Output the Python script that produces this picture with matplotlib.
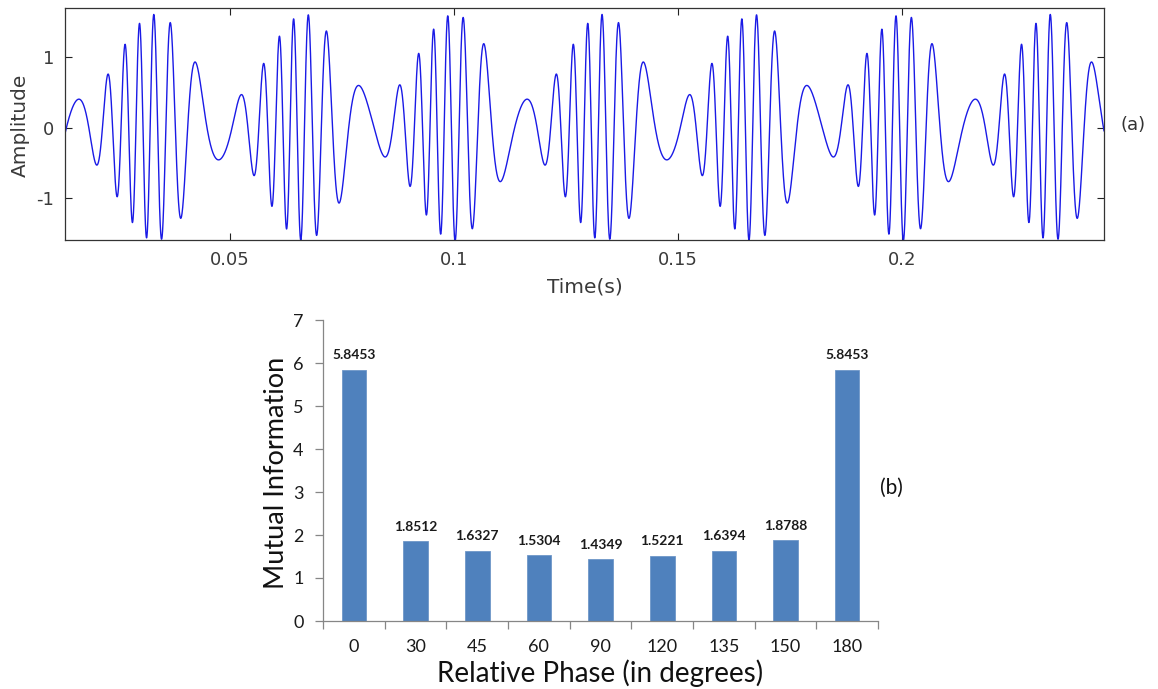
import matplotlib.pyplot as plt
import numpy as np

plt.rcParams['axes.unicode_minus'] = False

# (a) test signal: amplitude and frequency modulated carrier
t_start = 0.0132
t_end = 0.245
mod_freq = 30.0
carrier_freq = 200.0
freq_dev = 118.0
am_depth = 0.6
t_env_peak = 1.0 / 30.0
t_freq_peak = t_env_peak - 0.0033
phase0 = 0.6
time_ticks = [0.05, 0.1, 0.15, 0.2]
time_labels = ['0.05', '0.1', '0.15', '0.2']
amp_ticks = [-1, 0, 1]

# (b) mutual information vs relative phase
phase_labels = ['0', '30', '45', '60', '90', '120', '135', '150', '180']
mutual_info = [5.8453, 1.8512, 1.6327, 1.5304, 1.4349, 1.5221, 1.6394, 1.8788, 5.8453]

W, H = 1158, 689
fig = plt.figure(figsize=(W / 100, H / 100), dpi=100)

# ---- panel (a) ----
t = np.linspace(t_start, t_end, 8000)
beta = freq_dev / mod_freq
phase = (2 * np.pi * carrier_freq * (t - t_env_peak)
         + beta * (np.sin(2 * np.pi * mod_freq * (t - t_freq_peak))
                   - np.sin(2 * np.pi * mod_freq * (t_env_peak - t_freq_peak)))
         + phase0)
env = 1 + am_depth * np.cos(2 * np.pi * mod_freq * (t - t_env_peak))
sig = env * np.cos(phase)

ax1 = fig.add_axes([65 / W, 1 - 240 / H, 1039 / W, 232 / H])
ax1.plot(t, sig, color='#1a1ae6', lw=1.0)
ax1.set_xlim(t_start, t_end)
ax1.set_ylim(-1.59, 1.69)
ax1.set_xticks(time_ticks)
ax1.set_xticklabels(time_labels)
ax1.set_yticks(amp_ticks)
ax1.tick_params(direction='in', top=True, right=True, length=5, width=0.8,
                labelsize=13, labelcolor='#3a3a3a', color='#222222', pad=8)
for s in ax1.spines.values():
    s.set_color('#333333')
    s.set_linewidth(0.9)
fig.text(20 / W, 1 - 125 / H, 'Amplitude', rotation=90, ha='center', va='center',
         fontsize=14.5, color='#3a3a3a')
fig.text(585 / W, 1 - 287 / H, 'Time(s)', ha='center', va='center',
         fontsize=14.5, color='#3a3a3a')
fig.text(1133 / W, 1 - 125 / H, '(a)', ha='center', va='center',
         fontsize=13, color='#333333')

# ---- panel (b) ----
ff = ['Lato', 'DejaVu Sans']
ax2 = fig.add_axes([323 / W, 1 - 621 / H, 555 / W, 301 / H])
x = np.arange(len(phase_labels))
ax2.bar(x, mutual_info, width=0.4, color='#4f81bd', edgecolor='#6f97c8', linewidth=0.6)
ax2.set_xlim(-0.5, len(phase_labels) - 0.5)
ax2.set_ylim(0, 7)
ax2.set_yticks(range(8))
ax2.set_xticks(x)
ax2.set_xticklabels(phase_labels, fontfamily=ff)
ax2.set_xticks(np.arange(-0.5, len(phase_labels)), minor=True)
ax2.tick_params(axis='x', which='major', length=0, pad=13, labelsize=13, labelcolor='#1a1a1a')
ax2.tick_params(axis='x', which='minor', length=6, width=0.9, color='#868686', direction='out')
ax2.tick_params(axis='y', length=6, width=0.9, color='#868686', pad=8,
                labelsize=13, labelcolor='#1a1a1a')
for lab in ax2.get_yticklabels():
    lab.set_fontfamily(ff)
for side in ['top', 'right']:
    ax2.spines[side].set_visible(False)
for side in ['left', 'bottom']:
    ax2.spines[side].set_color('#868686')
    ax2.spines[side].set_linewidth(0.9)

for xi, v in zip(x, mutual_info):
    ax2.annotate(f'{v:.4f}', (xi, v), xytext=(0, 6), textcoords='offset points',
                 ha='center', va='bottom', fontsize=10, fontweight='bold',
                 family=ff, color='#1a1a1a')

fig.text(276 / W, 1 - 473 / H, 'Mutual Information', rotation=90, ha='center', va='center',
         fontsize=19.5, family=ff, color='#111111')
fig.text(600 / W, 1 - 673 / H, 'Relative Phase (in degrees)', ha='center', va='center',
         fontsize=20, family=ff, color='#111111')
fig.text(891 / W, 1 - 488 / H, '(b)', ha='center', va='center',
         fontsize=15, family=ff, color='#111111')

fig.savefig('out.png', dpi=100)
